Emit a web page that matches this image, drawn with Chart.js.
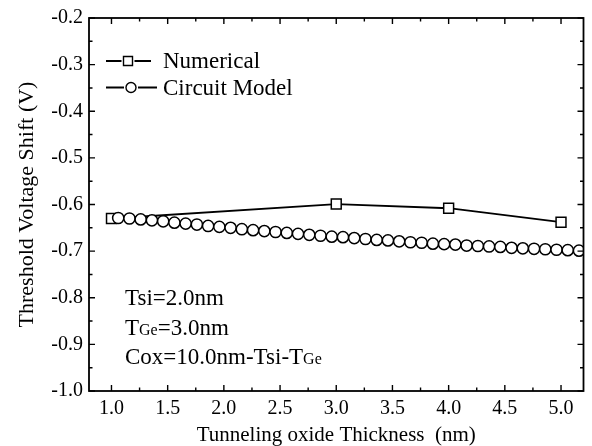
<!DOCTYPE html>
<html><head><meta charset="utf-8">
<script src="https://cdn.jsdelivr.net/npm/chart.js@4.4.0/dist/chart.umd.min.js"></script>
<style>html,body{margin:0;padding:0;background:#fff;overflow:hidden}#wrap{width:592px;height:446px}</style>
</head><body><div id="wrap"><canvas id="c" width="592" height="446"></canvas></div>
<script>
// ---- data ----
const xTicks = [1.0, 1.5, 2.0, 2.5, 3.0, 3.5, 4.0, 4.5, 5.0];
const yTicks = [-1.0, -0.9, -0.8, -0.7, -0.6, -0.5, -0.4, -0.3, -0.2];
const seriesLabels = ['Numerical', 'Circuit Model'];
const numericalX = [1.0, 3.0, 4.0, 5.0];
const numericalY = [-0.630, -0.599, -0.608, -0.638];
const circuitX = [1.06, 1.16, 1.26, 1.36, 1.46, 1.56, 1.66, 1.76, 1.86, 1.96,
                  2.06, 2.16, 2.26, 2.36, 2.46, 2.56, 2.66, 2.76, 2.86, 2.96,
                  3.06, 3.16, 3.26, 3.36, 3.46, 3.56, 3.66, 3.76, 3.86, 3.96,
                  4.06, 4.16, 4.26, 4.36, 4.46, 4.56, 4.66, 4.76, 4.86, 4.96,
                  5.06, 5.16];
const circuitY = [-0.629, -0.630, -0.632, -0.634, -0.636, -0.639, -0.641, -0.643, -0.646, -0.648,
                  -0.650, -0.653, -0.655, -0.657, -0.659, -0.661, -0.663, -0.665, -0.667, -0.669,
                  -0.670, -0.672, -0.674, -0.676, -0.677, -0.679, -0.681, -0.682, -0.684, -0.685,
                  -0.686, -0.688, -0.689, -0.690, -0.691, -0.693, -0.694, -0.695, -0.696, -0.697,
                  -0.698, -0.699];
const xTitle = 'Tunneling oxide Thickness  (nm)';
const yTitle = 'Threshold Voltage Shift (V)';
// annotation lines: each a list of [text, isSmall]
const annotationLines = [
  [['Tsi=2.0nm', false]],
  [['T', false], ['Ge', true], ['=3.0nm', false]],
  [['Cox=10.0nm-Tsi-T', false], ['Ge', true]]
];

const FONT = "'Liberation Serif', 'Times New Roman', serif";

const toPts = (xs, ys) => xs.map((x, i) => ({x: x, y: ys[i]}));

const framePlugin = {
  id: 'frame',
  afterDatasetsDraw(chart) {
    const {ctx, chartArea: a, scales: {x, y}} = chart;
    ctx.save();
    ctx.strokeStyle = '#000';
    ctx.lineWidth = 1.8;
    ctx.strokeRect(a.left, a.top, a.right - a.left, a.bottom - a.top);
    ctx.lineWidth = 1.4;
    const major = 6, minor = 3.5;
    const xMinor = [];
    for (let i = 0; i < xTicks.length - 1; i++) xMinor.push((xTicks[i] + xTicks[i + 1]) / 2);
    const yMinor = [];
    for (let i = 0; i < yTicks.length - 1; i++) yMinor.push((yTicks[i] + yTicks[i + 1]) / 2);
    ctx.beginPath();
    const xt = (v, len) => {
      const px = x.getPixelForValue(v);
      ctx.moveTo(px, a.bottom); ctx.lineTo(px, a.bottom - len);
      ctx.moveTo(px, a.top); ctx.lineTo(px, a.top + len);
    };
    const yt = (v, len) => {
      const py = y.getPixelForValue(v);
      ctx.moveTo(a.left, py); ctx.lineTo(a.left + len, py);
      ctx.moveTo(a.right, py); ctx.lineTo(a.right - len, py);
    };
    xTicks.forEach(v => xt(v, major));
    xMinor.forEach(v => xt(v, minor));
    yTicks.forEach(v => yt(v, major));
    yMinor.forEach(v => yt(v, minor));
    ctx.stroke();
    ctx.restore();
  }
};

const legendPlugin = {
  id: 'customLegend',
  afterDraw(chart) {
    const {ctx} = chart;
    ctx.save();
    ctx.strokeStyle = '#000';
    ctx.fillStyle = '#000';
    ctx.lineWidth = 1.8;
    const rows = [
      {label: seriesLabels[0], y: 61, style: 'rect', x0: 106, x1: 151, mx: 128, r: 4.5},
      {label: seriesLabels[1], y: 87.5, style: 'circle', x0: 106, x1: 157, mx: 131, r: 5}
    ];
    rows.forEach(r => {
      ctx.beginPath();
      ctx.moveTo(r.x0, r.y); ctx.lineTo(r.mx - r.r - 2, r.y);
      ctx.moveTo(r.mx + r.r + 2, r.y); ctx.lineTo(r.x1, r.y);
      ctx.stroke();
      ctx.lineWidth = 1.4;
      ctx.beginPath();
      if (r.style === 'rect') ctx.rect(r.mx - r.r, r.y - r.r, 2 * r.r, 2 * r.r);
      else ctx.arc(r.mx, r.y, r.r, 0, Math.PI * 2);
      ctx.stroke();
      ctx.lineWidth = 1.8;
      ctx.font = "23px " + FONT;
      ctx.textBaseline = 'middle';
      ctx.textAlign = 'left';
      ctx.fillText(r.label, 163, r.y + 1);
    });
    // annotations
    ctx.textBaseline = 'alphabetic';
    const baselines = [305, 335, 364];
    annotationLines.forEach((parts, i) => {
      let cx = 125;
      parts.forEach(([t, small]) => {
        ctx.font = (small ? "16px " : "23px ") + FONT;
        ctx.fillText(t, cx, baselines[i]);
        cx += ctx.measureText(t).width;
      });
    });
    ctx.restore();
  }
};

new Chart(document.getElementById('c'), {
  type: 'line',
  data: {
    datasets: [
      {
        label: seriesLabels[0],
        data: toPts(numericalX, numericalY),
        order: 1,
        borderColor: '#000', borderWidth: 1.8,
        pointStyle: 'rect', pointRadius: 7,
        pointBackgroundColor: '#fff', pointBorderColor: '#000', pointBorderWidth: 1.5,
        fill: false, tension: 0
      },
      {
        label: seriesLabels[1],
        data: toPts(circuitX, circuitY),
        order: 0,
        borderColor: '#000', borderWidth: 1.2,
        pointStyle: 'circle', pointRadius: 5.6,
        pointBackgroundColor: '#fff', pointBorderColor: '#000', pointBorderWidth: 1.5,
        fill: false, tension: 0
      }
    ]
  },
  options: {
    responsive: false,
    animation: false,
    devicePixelRatio: 1,
    layout: {padding: {left: 0, right: 4, top: 17, bottom: 0}},
    plugins: {legend: {display: false}, tooltip: {enabled: false}},
    scales: {
      x: {
        type: 'linear', min: 0.8, max: 5.2,
        afterBuildTicks: s => { s.ticks = xTicks.map(v => ({value: v})); },
        afterFit: s => { s.height = 55; },
        grid: {display: false, drawTicks: false}, border: {display: false},
        ticks: {font: {family: FONT, size: 20}, color: '#000', padding: 6, maxRotation: 0, autoSkip: false,
                callback: v => Number(v).toFixed(1)},
        title: {display: true, text: xTitle, color: '#000', padding: 0,
                font: {family: FONT, size: 21, lineHeight: 1}}
      },
      y: {
        type: 'linear', min: -1.0, max: -0.2,
        afterBuildTicks: s => { s.ticks = yTicks.map(v => ({value: v})); },
        afterFit: s => { s.width = 89; },
        grid: {display: false, drawTicks: false}, border: {display: false},
        ticks: {font: {family: FONT, size: 20}, color: '#000', padding: 6, autoSkip: false,
                callback: v => Number(v).toFixed(1)},
        title: {display: true, text: yTitle, color: '#000', padding: {top: 14, bottom: 0},
                font: {family: FONT, size: 22, lineHeight: 1.2}}
      }
    }
  },
  plugins: [framePlugin, legendPlugin]
});
</script>
</body></html>
